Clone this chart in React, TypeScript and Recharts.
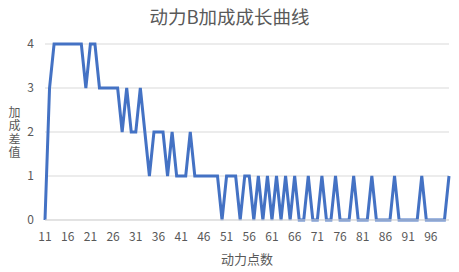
import React from "react";
import { LineChart, Line, XAxis, YAxis, CartesianGrid } from "recharts";

const points = [
  11, 12, 13, 14, 15, 16, 17, 18, 19, 20,
  21, 22, 23, 24, 25, 26, 27, 28, 29, 30,
  31, 32, 33, 34, 35, 36, 37, 38, 39, 40,
  41, 42, 43, 44, 45, 46, 47, 48, 49, 50,
  51, 52, 53, 54, 55, 56, 57, 58, 59, 60,
  61, 62, 63, 64, 65, 66, 67, 68, 69, 70,
  71, 72, 73, 74, 75, 76, 77, 78, 79, 80,
  81, 82, 83, 84, 85, 86, 87, 88, 89, 90,
  91, 92, 93, 94, 95, 96, 97, 98, 99, 100,
];

const bonusDiff = [
  0, 3, 4, 4, 4, 4, 4, 4, 4, 3,
  4, 4, 3, 3, 3, 3, 3, 2, 3, 2,
  2, 3, 2, 1, 2, 2, 2, 1, 2, 1,
  1, 1, 2, 1, 1, 1, 1, 1, 1, 0,
  1, 1, 1, 0, 1, 1, 0, 1, 0, 1,
  0, 1, 0, 1, 0, 1, 0, 0, 1, 0,
  0, 1, 0, 0, 1, 0, 0, 0, 1, 0,
  0, 0, 1, 0, 0, 0, 0, 1, 0, 0,
  0, 0, 0, 1, 0, 0, 0, 0, 0, 1,
];

const yTicks = [0, 1, 2, 3, 4];
const title = "动力B加成成长曲线";
const xTitle = "动力点数";
const yTitle = "加成差值";

const data = points.map((p, i) => ({ point: p, diff: bonusDiff[i] }));

const font = '"Noto Sans CJK SC", "Noto Sans", sans-serif';
const textColor = "#595959";

export default function App() {
  return (
    <div style={{ position: "relative", width: 459, height: 272, background: "#fff", fontFamily: font }}>
      <style>{`body { margin: 0; }`}</style>
      <div
        style={{
          position: "absolute",
          top: 4,
          left: 0,
          width: 459,
          textAlign: "center",
          fontSize: 18.5,
          lineHeight: "24px",
          color: textColor,
        }}
      >
        {title}
      </div>
      {/* upright stacked y-axis title */}
      <div
        style={{
          position: "absolute",
          left: 7,
          top: 106,
          writingMode: "vertical-rl",
          textOrientation: "upright",
          fontSize: 12,
          lineHeight: "14px",
          letterSpacing: 1.5,
          color: textColor,
        }}
      >
        {yTitle}
      </div>
      <LineChart
        width={459}
        height={272}
        data={data}
        margin={{ top: 44, right: 10, left: 25, bottom: 2 }}
      >
        <CartesianGrid vertical={false} stroke="#d9d9d9" strokeWidth={1} />
        <XAxis
          dataKey="point"
          interval={4}
          tickLine={false}
          axisLine={{ stroke: "#d9d9d9" }}
          tick={{ fontSize: 12, fill: textColor, fontFamily: font }}
          tickMargin={6}
          height={50}
          padding={{ left: 0, right: 0 }}
          label={{
            value: xTitle,
            position: "insideBottom",
            offset: 6,
            fontSize: 13,
            fill: textColor,
            fontFamily: font,
          }}
        />
        <YAxis
          domain={[0, 4]}
          ticks={yTicks}
          width={20}
          tickLine={false}
          axisLine={false}
          tickMargin={5}
          tick={{ fontSize: 12, fill: textColor, fontFamily: font }}
        />
        <Line
          type="linear"
          dataKey="diff"
          stroke="#4472c4"
          strokeWidth={3}
          dot={false}
          isAnimationActive={false}
        />
      </LineChart>
    </div>
  );
}
